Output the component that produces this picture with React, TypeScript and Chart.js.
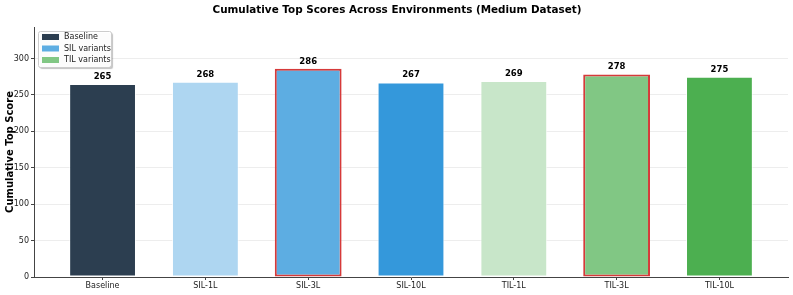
import React, { useEffect, useRef } from "react";
import { Chart, registerables } from "chart.js";

Chart.register(...registerables);

const categories = ["Baseline", "SIL-1L", "SIL-3L", "SIL-10L", "TIL-1L", "TIL-3L", "TIL-10L"];
const scores = [265, 268, 286, 267, 269, 278, 275];
const barColors = ["#2c3e50", "#aed6f1", "#5dade2", "#3498db", "#c8e6c9", "#81c784", "#4caf50"];
const highlighted = [false, false, true, false, false, true, false];
const legendLabels = ["Baseline", "SIL variants", "TIL variants"];
const legendColors = ["#2c3e50", "#5dade2", "#81c784"];
const yTicks = [0, 50, 100, 150, 200, 250, 300];

const TITLE = "Cumulative Top Scores Across Environments (Medium Dataset)";
const FONT = "'DejaVu Sans', sans-serif";

export default function App() {
  const ref = useRef<HTMLCanvasElement | null>(null);

  useEffect(() => {
    document.body.style.margin = "0";
    const canvas = ref.current!;
    const overlay = {
      id: "overlay",
      afterDatasetsDraw(chart: any) {
        const ctx = chart.ctx;
        const meta = chart.getDatasetMeta(0);
        ctx.save();
        ctx.fillStyle = "#000";
        ctx.font = `bold 8.5px ${FONT}`;
        ctx.textAlign = "center";
        ctx.textBaseline = "bottom";
        meta.data.forEach((el: any, i: number) => {
          ctx.fillText(String(scores[i]), el.x, el.y - 3);
        });
        ctx.font = `bold 10.4px ${FONT}`;
        ctx.textBaseline = "middle";
        ctx.fillText(TITLE, 397, 10);
        // legend
        const lx = 38, ly = 31, lw = 73, lh = 36;
        ctx.shadowColor = "rgba(0,0,0,0.25)";
        ctx.shadowOffsetX = 2;
        ctx.shadowOffsetY = 2;
        ctx.shadowBlur = 1;
        ctx.fillStyle = "rgba(255,255,255,0.95)";
        ctx.beginPath();
        (ctx as any).roundRect(lx, ly, lw, lh, 2);
        ctx.fill();
        ctx.shadowColor = "transparent";
        ctx.strokeStyle = "#cccccc";
        ctx.lineWidth = 1;
        ctx.beginPath();
        (ctx as any).roundRect(lx + 0.5, ly + 0.5, lw, lh, 2);
        ctx.stroke();
        ctx.font = `8px ${FONT}`;
        ctx.textAlign = "left";
        ctx.textBaseline = "middle";
        legendLabels.forEach((lab, i) => {
          const yy = ly + 6 + i * 11.5;
          ctx.fillStyle = legendColors[i];
          ctx.fillRect(lx + 4, yy - 3, 17, 6);
          ctx.fillStyle = "#222";
          ctx.fillText(lab, lx + 26, yy);
        });
        ctx.restore();
      },
    };

    const chart = new Chart(canvas, {
      type: "bar",
      data: {
        datasets: [
          {
            data: scores.map((v, i) => ({ x: i, y: v })),
            backgroundColor: barColors,
            borderColor: highlighted.map((h) => (h ? "#d63a3a" : "rgba(255,255,255,0.7)")),
            borderWidth: highlighted.map((h) => (h ? 2 : 1)),
            borderSkipped: false,
            barPercentage: 0.65,
            categoryPercentage: 1,
          } as any,
        ],
      },
      options: {
        animation: false,
        responsive: false,
        maintainAspectRatio: false,
        layout: { padding: { top: 27, right: 5, left: 0, bottom: 0 } },
        plugins: {
          legend: { display: false },
          title: { display: false },
          tooltip: { enabled: false },
        },
        scales: {
          x: {
            type: "linear",
            offset: false,
            min: -0.667,
            max: 6.667,
            afterFit: (s: any) => {
              s.height = 18;
            },
            afterBuildTicks: (s: any) => {
              s.ticks = categories.map((_, i) => ({ value: i }));
            },
            ticks: {
              includeBounds: false,
              stepSize: 1,
              autoSkip: false,
              maxRotation: 0,
              padding: 1,
              color: "#222",
              font: { family: FONT, size: 8 },
              callback: (v: any) => categories[Math.round(Number(v))] ?? "",
            },
            grid: {
              offset: false,
              drawOnChartArea: false,
              drawTicks: true,
              tickLength: 3,
              tickColor: "#444",
            },
            border: { color: "#444", width: 1 },
          } as any,
          y: {
            min: 0,
            max: 343.2,
            afterFit: (s: any) => {
              s.width = 34;
            },
            afterBuildTicks: (s: any) => {
              s.ticks = yTicks.map((v) => ({ value: v }));
            },
            ticks: {
              includeBounds: false,
              stepSize: 50,
              padding: 2,
              color: "#222",
              font: { family: FONT, size: 8 },
            },
            title: {
              display: true,
              text: "Cumulative Top Score",
              color: "#000",
              font: { family: FONT, size: 10, weight: "bold" },
              padding: { top: 4, bottom: 0 },
            },
            grid: {
              color: (c: any) => (c.tick && c.tick.value === 0 ? "rgba(0,0,0,0)" : "rgba(0,0,0,0.07)"),
              tickColor: "#444",
              tickLength: 3,
            },
            border: { color: "#444", width: 1 },
          } as any,
        },
      },
      plugins: [overlay],
    });
    return () => chart.destroy();
  }, []);

  return (
    <div style={{ position: "fixed", left: 0, top: 0, width: 793, height: 295, background: "#fff" }}>
      <canvas ref={ref} width={793} height={295} style={{ width: 793, height: 295 }} />
    </div>
  );
}
